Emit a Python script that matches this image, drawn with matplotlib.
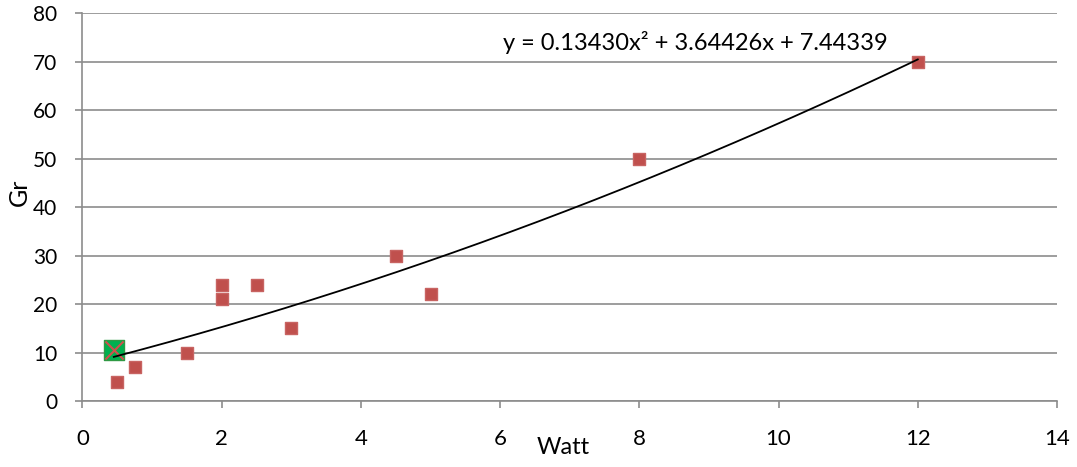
import numpy as np
import matplotlib.pyplot as plt

# measured points
watt = [0.5, 0.75, 1.5, 2, 2, 2.5, 3, 4.5, 5, 8, 12]
gr = [4, 7, 10, 21, 24, 24, 15, 30, 22, 50, 70]
# highlighted point
hi_x = [0.45]
hi_y = [10.5]
# trendline coefficients (from the equation label)
coef = [0.13430, 3.64426, 7.44339]
trend_range = [0.45, 12]

x_ticks = [0, 2, 4, 6, 8, 10, 12, 14]
y_ticks = [0, 10, 20, 30, 40, 50, 60, 70, 80]

plt.rcParams['font.family'] = ['Lato', 'DejaVu Sans']

fig = plt.figure(figsize=(10.77, 4.67), dpi=100)
ax = fig.add_axes([0.0766, 0.1413, 0.9048, 0.8298])

grid_c = '#8c8c8c'
ax.set_xlim(0, 14)
ax.set_ylim(0, 80)
ax.set_xticks(x_ticks)
ax.set_yticks(y_ticks)
ax.yaxis.grid(True, color=grid_c, linewidth=1.2)
ax.set_axisbelow(True)
for s in ['top', 'right']:
    ax.spines[s].set_visible(False)
for s in ['left', 'bottom']:
    ax.spines[s].set_color(grid_c)
    ax.spines[s].set_linewidth(1.2)
ax.tick_params(axis='both', color=grid_c, length=5, width=1.2, labelsize=15)
ax.tick_params(axis='x', pad=15)
ax.tick_params(axis='y', pad=13)
for lab in ax.get_xticklabels():
    lab.set_fontstretch('condensed')
    lab.set_fontsize(16)

ax.scatter(hi_x, hi_y, marker='s', s=210, color='#00B050', edgecolors='#2E9A44',
           zorder=3, clip_on=False)
ax.scatter(hi_x, hi_y, marker='x', s=170, color='#D0504D', linewidths=1.5, zorder=4)
ax.scatter(watt, gr, marker='s', s=75, color='#C0504D', edgecolors='#C86462', zorder=3,
           clip_on=False)

xt = np.linspace(trend_range[0], trend_range[1], 200)
ax.plot(xt, np.polyval(coef, xt), color='black', linewidth=1.3, zorder=5)

ax.text(0.4315, 0.926, 'y = 0.13430x² + 3.64426x + 7.44339', transform=ax.transAxes,
        fontsize=17, ha='left', va='center')

fig.text(563 / 1077, 1 - 448 / 467, 'Watt', fontsize=17,
         ha='center', va='center')
fig.text(19 / 1077, 1 - 192 / 467, 'Gr', fontsize=18, rotation=90,
         ha='center', va='center')

fig.savefig('out.png', dpi=100)
